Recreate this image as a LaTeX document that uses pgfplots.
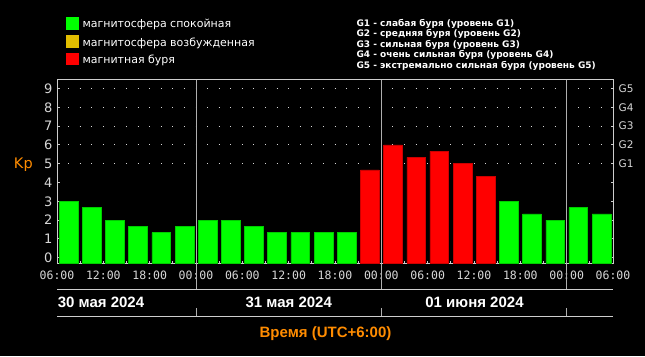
\documentclass[border=0pt]{standalone}
\usepackage{pgfplots}
\pgfplotsset{compat=1.18}
\usepackage{fontspec}
\setmainfont{DejaVu Sans}
\newfontfamily\lib{Liberation Sans}
\newfontfamily\mono{DejaVu Sans Mono}
\definecolor{kgreen}{RGB}{0,255,0}
\definecolor{kred}{RGB}{255,0,0}
\definecolor{kyel}{RGB}{226,190,0}
\definecolor{korange}{RGB}{255,140,0}
\definecolor{framec}{RGB}{205,205,205}
\definecolor{dayc}{RGB}{175,175,175}
\definecolor{lbl}{RGB}{215,215,215}
\begin{document}
\begin{tikzpicture}[x=1bp,y=1bp]
\fill[black] (0,0) rectangle (645,356);
\begin{axis}[
  at={(57bp,93bp)}, anchor=south west,
  scale only axis, width=556bp, height=183bp,
  xmin=0, xmax=72, ymin=0, ymax=9.73,
  clip=false,
  axis line style={draw=framec, line width=1bp},
  tick style={draw=framec, line width=1bp},
  major tick length=2.5bp, minor tick length=2bp,
  tick align=inside,
  xtick pos=left, ytick pos=both, yticklabel pos=left,
  xtick={0,6,12,18,24,30,36,42,48,54,60,66,72},
  xticklabels={06:00,12:00,18:00,00:00,06:00,12:00,18:00,00:00,06:00,12:00,18:00,00:00,06:00},
  minor xtick={3,9,15,21,27,33,39,45,51,57,63,69},
  ytick={0.28,1.28,2.28,3.28,4.28,5.28,6.28,7.28,8.28,9.28},
  yticklabels={0,1,2,3,4,5,6,7,8,9},
  xticklabel style={font=\mono\fontsize{11.5bp}{12bp}\selectfont, text=lbl, anchor=center, yshift=-12.7bp, inner sep=0pt},
  yticklabel style={font=\fontsize{13bp}{14bp}\selectfont, text=lbl, anchor=east, xshift=-4.3bp, inner sep=0pt},
  extra y ticks={5.28,6.28,7.28,8.28,9.28},
  extra y tick labels={},
  extra y tick style={grid=major, major grid style={draw=lbl, line width=1bp, dash pattern=on 1bp off 10.5833bp, dash phase=0.5bp}},
]
\addplot[ybar, bar width=2.42, bar shift=0pt, fill=kgreen, draw=kgreen!80!black, line width=0.5bp, y filter/.expression={y+0.28}]
coordinates {
(1.5,3) (4.5,2.67) (7.5,2) (10.5,1.67) (13.5,1.33) (16.5,1.67)
(19.5,2) (22.5,2) (25.5,1.67) (28.5,1.33) (31.5,1.33) (34.5,1.33) (37.5,1.33)
(58.5,3) (61.5,2.33) (64.5,2) (67.5,2.67) (70.5,2.33)
};
\addplot[ybar, bar width=2.42, bar shift=0pt, fill=kred, draw=kred!80!black, line width=0.5bp, y filter/.expression={y+0.28}]
coordinates {
(40.5,4.67) (43.5,6) (46.5,5.33) (49.5,5.67) (52.5,5) (55.5,4.33)
};
\draw[dayc, line width=1bp] (axis cs:18,9.73) -- ([yshift=-26bp]axis cs:18,0);
\draw[dayc, line width=1bp] (axis cs:42,9.73) -- ([yshift=-26bp]axis cs:42,0);
\draw[dayc, line width=1bp] (axis cs:66,9.73) -- ([yshift=-26bp]axis cs:66,0);
\node[anchor=west, inner sep=0pt, xshift=5.5bp, text=lbl, font=\fontsize{10.5bp}{11bp}\selectfont] at (axis cs:72,9.28) {G5};
\node[anchor=west, inner sep=0pt, xshift=5.5bp, text=lbl, font=\fontsize{10.5bp}{11bp}\selectfont] at (axis cs:72,8.28) {G4};
\node[anchor=west, inner sep=0pt, xshift=5.5bp, text=lbl, font=\fontsize{10.5bp}{11bp}\selectfont] at (axis cs:72,7.28) {G3};
\node[anchor=west, inner sep=0pt, xshift=5.5bp, text=lbl, font=\fontsize{10.5bp}{11bp}\selectfont] at (axis cs:72,6.28) {G2};
\node[anchor=west, inner sep=0pt, xshift=5.5bp, text=lbl, font=\fontsize{10.5bp}{11bp}\selectfont] at (axis cs:72,5.28) {G1};
\end{axis}
% date band
\draw[framec, line width=1bp] (57,66.7) -- (613,66.7);
\draw[framec, line width=1bp] (57,39.7) -- (613,39.7);
\draw[dayc, line width=1bp] (196,39.7) -- (196,47.7);
\draw[dayc, line width=1bp] (381.33,39.7) -- (381.33,47.7);
\draw[dayc, line width=1bp] (566.67,39.7) -- (566.67,47.7);
\node[anchor=base west, inner sep=0pt, text=white, font=\lib\bfseries\fontsize{15bp}{16bp}\selectfont] at (57.6,48.3) {30 мая 2024};
\node[anchor=base, inner sep=0pt, text=white, font=\lib\bfseries\fontsize{15bp}{16bp}\selectfont] at (288.7,48.3) {31 мая 2024};
\node[anchor=base, inner sep=0pt, text=white, font=\lib\bfseries\fontsize{15bp}{16bp}\selectfont] at (474.5,48.3) {01 июня 2024};
\node[anchor=base, inner sep=0pt, text=korange, font=\lib\bfseries\fontsize{15bp}{16bp}\selectfont] at (325.5,18.3) {Время (UTC+6:00)};
% Kp
\node[anchor=base west, inner sep=0pt, text=korange, font=\fontsize{14.5bp}{15bp}\selectfont] at (13.8,187.7) {Kp};
% legend
\fill[kgreen] (66,326) rectangle (79,338.7);
\fill[kyel] (66,308.3) rectangle (79,321);
\fill[kred] (66,290.7) rectangle (79,303.3);
\node[anchor=base west, inner sep=0pt, text=white, font=\fontsize{11bp}{12bp}\selectfont] at (82.3,328.3) {магнитосфера спокойная};
\node[anchor=base west, inner sep=0pt, text=white, font=\fontsize{11bp}{12bp}\selectfont] at (82.3,310) {магнитосфера возбужденная};
\node[anchor=base west, inner sep=0pt, text=white, font=\fontsize{11bp}{12bp}\selectfont] at (82.3,292.7) {магнитная буря};
% G list
\node[anchor=base west, inner sep=0pt, text=white, font=\bfseries\fontsize{9bp}{10bp}\selectfont] at (356.3,330) {G1 - слабая буря (уровень G1)};
\node[anchor=base west, inner sep=0pt, text=white, font=\bfseries\fontsize{9bp}{10bp}\selectfont] at (356.3,319.4) {G2 - средняя буря (уровень G2)};
\node[anchor=base west, inner sep=0pt, text=white, font=\bfseries\fontsize{9bp}{10bp}\selectfont] at (356.3,308.8) {G3 - сильная буря (уровень G3)};
\node[anchor=base west, inner sep=0pt, text=white, font=\bfseries\fontsize{9bp}{10bp}\selectfont] at (356.3,298.2) {G4 - очень сильная буря (уровень G4)};
\node[anchor=base west, inner sep=0pt, text=white, font=\bfseries\fontsize{9bp}{10bp}\selectfont] at (356.3,287.6) {G5 - экстремально сильная буря (уровень G5)};
\pgfresetboundingbox
\useasboundingbox (0,0) rectangle (645,356);
\end{tikzpicture}
\end{document}
